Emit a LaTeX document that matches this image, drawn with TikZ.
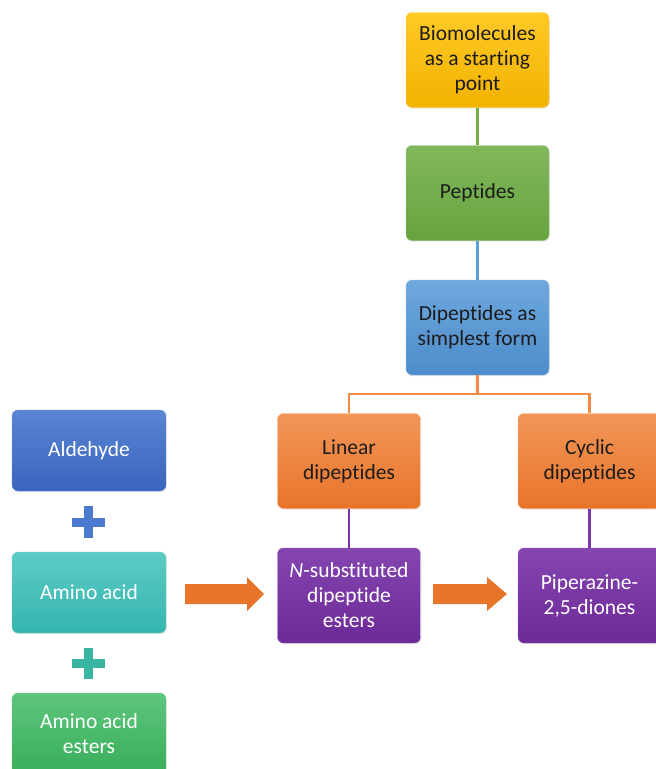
\documentclass[tikz,border=0pt]{standalone}
\usepackage{fontspec}
\setmainfont[Ligatures=NoCommon]{Carlito}
\usetikzlibrary{shadows}
\definecolor{cYel}{HTML}{FFC000}
\definecolor{cYelD}{HTML}{F2B200}
\definecolor{cGrn}{HTML}{74B04A}
\definecolor{cGrnD}{HTML}{66A33E}
\definecolor{cBlu}{HTML}{5E9FDA}
\definecolor{cBluD}{HTML}{4D8CCB}
\definecolor{cOrg}{HTML}{F08A45}
\definecolor{cOrgD}{HTML}{E8742A}
\definecolor{cPur}{HTML}{7A35A8}
\definecolor{cPurD}{HTML}{6C2A98}
\definecolor{cAld}{HTML}{4A7BD0}
\definecolor{cAldD}{HTML}{3A64BE}
\definecolor{cAmi}{HTML}{4CC6C0}
\definecolor{cAmiD}{HTML}{34B4AE}
\definecolor{cEst}{HTML}{4CBF6E}
\definecolor{cEstD}{HTML}{38AE5A}
\definecolor{cTxt}{HTML}{1C1C1C}
\begin{document}
\begin{tikzpicture}[x=1pt,y=-1pt,
  boxbase/.style={rectangle, rounded corners=6pt, align=center, inner sep=0pt,
    font=\fontsize{21.5}{25}\selectfont,
    drop shadow={opacity=0.18, shadow xshift=0.8pt, shadow yshift=-1.2pt}},
  rbox/.style={boxbase, minimum width=143pt, minimum height=95pt},
  lbox/.style={boxbase, minimum width=154pt, minimum height=81pt, text=white},
  conn/.style={line width=2.2pt}
]
\useasboundingbox (0,0) rectangle (656,769);

% right column
\node[rbox, top color=cYel!85!white, bottom color=cYelD, draw=cYel!70!white, text=cTxt] (bio) at (477.5,60) {Biomolecules\\as a starting\\point};
\node[rbox, top color=cGrn!90!white, bottom color=cGrnD, draw=cGrn!75!white, text=cTxt] (pep) at (477.5,193) {Peptides};
\node[rbox, top color=cBlu!90!white, bottom color=cBluD, draw=cBlu!75!white, text=cTxt] (dip) at (477.5,327.5) {Dipeptides as\\simplest form};
\node[rbox, top color=cOrg!90!white, bottom color=cOrgD, draw=cOrg!75!white, text=cTxt] (lin) at (349,461) {Linear\\dipeptides};
\node[rbox, top color=cOrg!90!white, bottom color=cOrgD, draw=cOrg!75!white, text=cTxt] (cyc) at (589.5,461) {Cyclic\\dipeptides};
\node[rbox, top color=cPur!92!white, bottom color=cPurD, draw=cPur!80!white, text=white] (nsub) at (349,595.5) {\textit{N}-substituted\\dipeptide\\esters};
\node[rbox, top color=cPur!92!white, bottom color=cPurD, draw=cPur!80!white, text=white] (pip) at (589.5,595.5) {Piperazine-\\2,5-diones};

% left column
\node[lbox, top color=cAld!92!white, bottom color=cAldD, draw=cAld!80!white] (ald) at (89,450.5) {Aldehyde};
\node[lbox, top color=cAmi!90!white, bottom color=cAmiD, draw=cAmi!80!white] (ami) at (89,592.5) {Amino acid};
\node[lbox, top color=cEst!90!white, bottom color=cEstD, draw=cEst!80!white] (est) at (89,733.5) {Amino acid\\esters};

% connectors
\draw[conn, cGrn] (bio.south) -- (pep.north);
\draw[conn, cBlu] (pep.south) -- (dip.north);
\draw[conn, cOrg] (dip.south) -- ++(0,19) -| (lin.north);
\draw[conn, cOrg] (dip.south) -- ++(0,19) -| (cyc.north);
\draw[conn, cPur] (lin.south) -- (nsub.north);
\draw[conn, cPur] (cyc.south) -- (pip.north);

% plus signs
\fill[cAld] (84,506) rectangle (93,538);
\fill[cAld] (72,517.5) rectangle (105,526.5);
\fill[cAmiD!80!cEst] (84,648) rectangle (93,679);
\fill[cAmiD!80!cEst] (72,659) rectangle (105,668);

% block arrows
\fill[cOrgD] (185,584) -- (247,584) -- (247,577) -- (264,594) -- (247,611) -- (247,604) -- (185,604) -- cycle;
\fill[cOrgD] (433,584) -- (487,584) -- (487,577) -- (507,594) -- (487,611) -- (487,604) -- (433,604) -- cycle;
\end{tikzpicture}
\end{document}
